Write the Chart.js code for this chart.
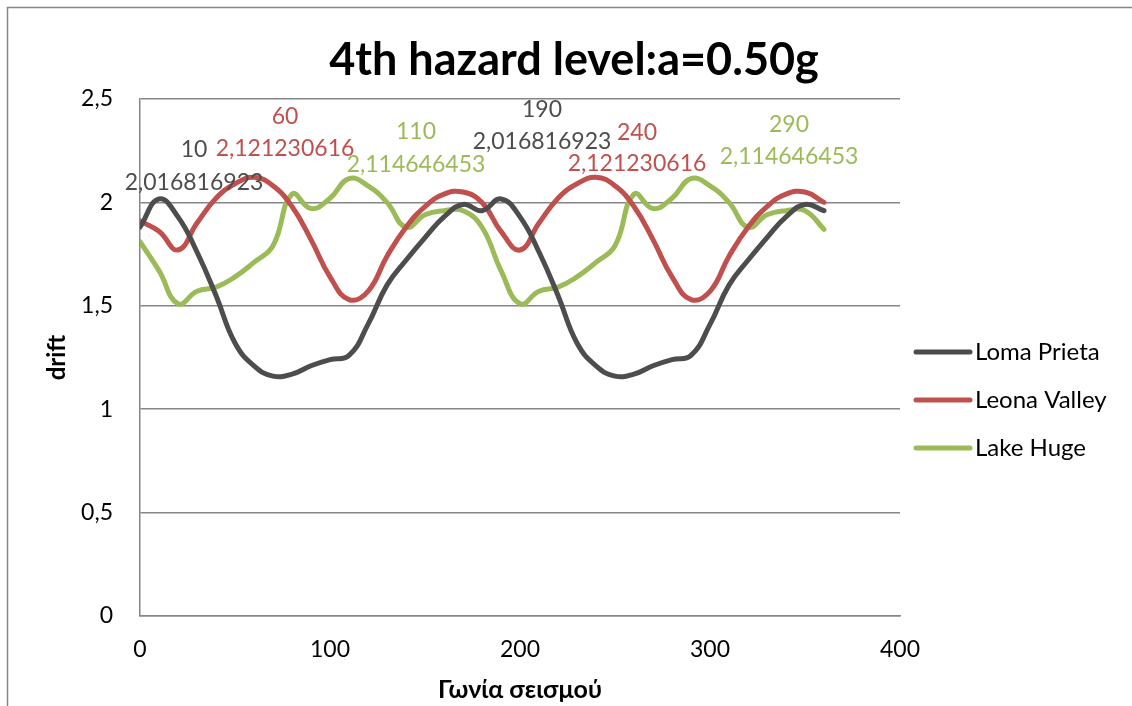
<!DOCTYPE html>
<html>
<head>
<meta charset="utf-8">
<script src="https://cdn.jsdelivr.net/npm/chart.js@4.4.0/dist/chart.umd.min.js"></script>
<style>
  html, body { margin: 0; padding: 0; background: #fff; }
  #wrap { width: 1132px; height: 706px; }
</style>
</head>
<body>
<div id="wrap"><canvas id="driftChart" width="1132" height="706"></canvas></div>
<script>
// Earthquake angle (x) and drift values
const angles = [0, 10, 20, 30, 40, 50, 60, 70, 80, 90, 100, 110, 120, 130, 140, 150, 160, 170, 180,
                190, 200, 210, 220, 230, 240, 250, 260, 270, 280, 290, 300, 310, 320, 330, 340, 350, 360];

const lomaPrieta = [1.88, 2.016816923, 1.93, 1.76, 1.55, 1.32, 1.21, 1.16, 1.17, 1.21, 1.24, 1.26, 1.41, 1.60, 1.72, 1.83, 1.93, 1.99, 1.96,
                    2.016816923, 1.93, 1.76, 1.55, 1.32, 1.21, 1.16, 1.17, 1.21, 1.24, 1.26, 1.41, 1.60, 1.72, 1.83, 1.93, 1.99, 1.96];

const leonaValley = [1.91, 1.86, 1.77, 1.90, 2.02, 2.09, 2.121230616, 2.08, 1.98, 1.82, 1.64, 1.53, 1.57, 1.74, 1.88, 1.98, 2.04, 2.05, 2.00,
                     1.86, 1.77, 1.90, 2.02, 2.09, 2.121230616, 2.08, 1.98, 1.82, 1.64, 1.53, 1.57, 1.74, 1.88, 1.98, 2.04, 2.05, 2.00];

const lakeHuge = [1.81, 1.67, 1.51, 1.57, 1.59, 1.64, 1.71, 1.79, 2.04, 1.97, 2.02, 2.114646453, 2.08, 2.00, 1.88, 1.94, 1.96, 1.96, 1.88,
                  1.67, 1.51, 1.57, 1.59, 1.64, 1.71, 1.79, 2.04, 1.97, 2.02, 2.114646453, 2.08, 2.00, 1.88, 1.94, 1.96, 1.96, 1.87];

const seriesNames = ['Loma Prieta', 'Leona Valley', 'Lake Huge'];
const seriesColors = ['#4d4d4d', '#c0504d', '#9bbb59'];

// which points carry an "x / y" label, and where the label sits relative to its point
const peakLabels = [
  { ds: 0, idx: 1,  dx: 35, dyX: -49, dyVal: -16 },
  { ds: 1, idx: 6,  dx: 31, dyX: -61, dyVal: -29 },
  { ds: 2, idx: 11, dx: 67, dyX: -47, dyVal: -14 },
  { ds: 0, idx: 19, dx: 41, dyX: -89, dyVal: -57 },
  { ds: 1, idx: 24, dx: 41, dyX: -45, dyVal: -14 },
  { ds: 2, idx: 29, dx: 98, dyX: -54, dyVal: -22 }
];

const FONT = "Lato, 'Noto Sans', sans-serif";

// legend placement (right of the plot, like the Excel original)
const legendBox = { x: 916, firstY: 352, step: 48, lineLen: 54, textGap: 5 };

function toPoints(values) {
  return values.map((v, i) => ({ x: angles[i], y: v }));
}

function commaNum(v) {
  return String(v).replace('.', ',');
}

// outer frame of the chart object
const framePlugin = {
  id: 'frame',
  beforeDraw(chart) {
    const ctx = chart.ctx;
    ctx.save();
    ctx.fillStyle = '#ffffff';
    ctx.fillRect(0, 0, chart.width, chart.height);
    ctx.strokeStyle = '#868686';
    ctx.lineWidth = 1.5;
    ctx.strokeRect(7.5, 7.5, chart.width + 20, chart.height + 20);
    ctx.restore();
  }
};

// the two-line data labels over the peaks
const peakLabelPlugin = {
  id: 'peakLabels',
  afterDatasetsDraw(chart) {
    const ctx = chart.ctx;
    ctx.save();
    ctx.font = '23px ' + FONT;
    ctx.textAlign = 'center';
    ctx.textBaseline = 'middle';
    peakLabels.forEach(l => {
      const pt = chart.getDatasetMeta(l.ds).data[l.idx];
      const raw = chart.data.datasets[l.ds].data[l.idx];
      ctx.fillStyle = seriesColors[l.ds];
      ctx.fillText(String(raw.x), pt.x + l.dx, pt.y + l.dyX);
      ctx.fillText(commaNum(raw.y), pt.x + l.dx, pt.y + l.dyVal);
    });
    ctx.restore();
  }
};

// simple line-sample legend
const sideLegendPlugin = {
  id: 'sideLegend',
  afterDraw(chart) {
    const ctx = chart.ctx;
    ctx.save();
    ctx.font = '24px ' + FONT;
    ctx.textAlign = 'left';
    ctx.textBaseline = 'middle';
    chart.data.datasets.forEach((ds, i) => {
      const y = legendBox.firstY + i * legendBox.step;
      ctx.strokeStyle = ds.borderColor;
      ctx.lineWidth = ds.borderWidth;
      ctx.lineCap = 'round';
      ctx.beginPath();
      ctx.moveTo(legendBox.x, y);
      ctx.lineTo(legendBox.x + legendBox.lineLen, y);
      ctx.stroke();
      ctx.fillStyle = '#000';
      ctx.fillText(ds.label, legendBox.x + legendBox.lineLen + legendBox.textGap, y);
    });
    ctx.restore();
  }
};

const ctx = document.getElementById('driftChart').getContext('2d');

new Chart(ctx, {
  type: 'line',
  data: {
    datasets: [lomaPrieta, leonaValley, lakeHuge].map((vals, i) => ({
      label: seriesNames[i],
      data: toPoints(vals),
      borderColor: seriesColors[i],
      backgroundColor: seriesColors[i],
      borderWidth: 5,
      borderCapStyle: 'round',
      borderJoinStyle: 'round',
      pointRadius: 0,
      tension: 0.45,
      fill: false
    }))
  },
  options: {
    responsive: false,
    animation: false,
    devicePixelRatio: 1,
    layout: { padding: { left: 16, right: 0, top: 0, bottom: 0 } },
    scales: {
      x: {
        type: 'linear',
        min: 0,
        max: 400,
        ticks: { stepSize: 100, padding: 20, color: '#000', font: { family: FONT, size: 23 } },
        grid: { display: false, drawTicks: false },
        border: { display: true, color: '#868686', width: 1.5 },
        title: {
          display: true,
          text: 'Γωνία σεισμού',
          color: '#000',
          font: { family: FONT, size: 25, weight: 'bold' },
          padding: { top: 0, bottom: 1 }
        },
        afterFit(scale) { scale.height = 90; }
      },
      y: {
        min: 0,
        max: 2.5,
        ticks: {
          stepSize: 0.5,
          padding: 27,
          color: '#000',
          font: { family: FONT, size: 23 },
          callback: v => commaNum(v)
        },
        grid: { color: '#868686', lineWidth: 1.5, drawTicks: false },
        border: { display: true, color: '#868686', width: 1.5 },
        title: {
          display: true,
          text: 'drift',
          color: '#000',
          font: { family: FONT, size: 24, weight: 'bold' },
          padding: { top: 27, bottom: 0 }
        },
        afterFit(scale) { scale.width = 124; }
      },
      // empty right-hand axis that reserves the room where the legend is drawn
      legendSpace: {
        type: 'linear',
        position: 'right',
        display: true,
        ticks: { display: false },
        grid: { display: false, drawTicks: false },
        border: { display: false },
        afterFit(scale) { scale.width = 232; }
      }
    },
    plugins: {
      title: {
        display: true,
        text: '4th hazard level:a=0.50g',
        color: '#000',
        font: { family: FONT, size: 45, weight: 'bold' },
        padding: { top: 33, bottom: 12 }
      },
      legend: { display: false },
      tooltip: { enabled: false }
    }
  },
  plugins: [framePlugin, peakLabelPlugin, sideLegendPlugin]
});
</script>
</body>
</html>
